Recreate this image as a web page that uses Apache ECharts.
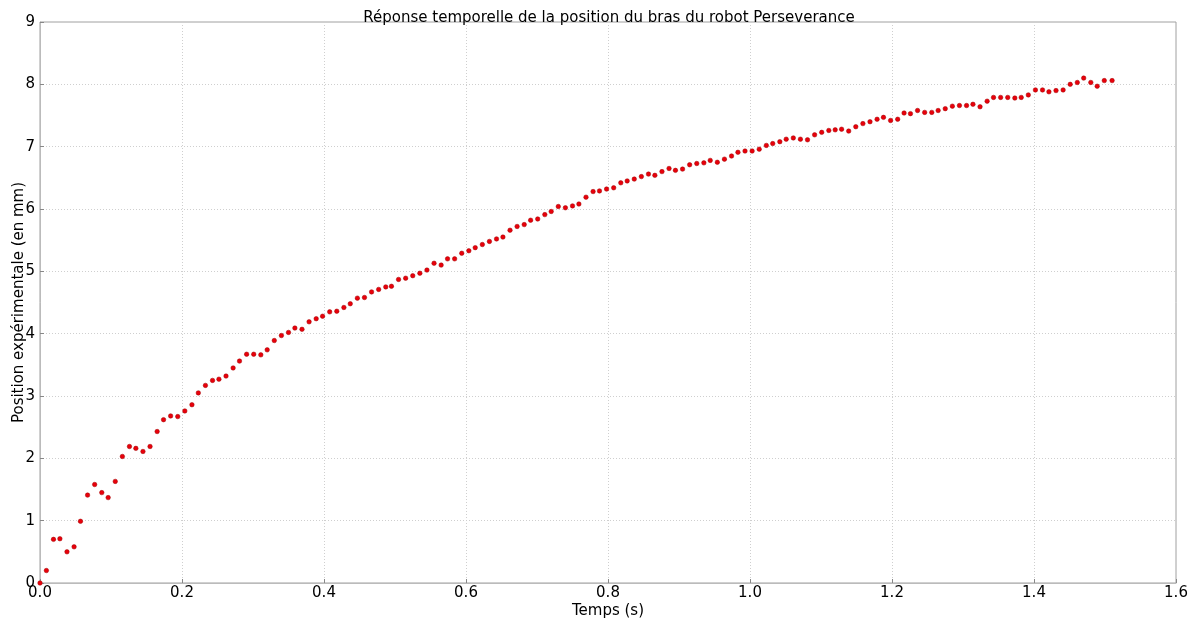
<!DOCTYPE html>
<html>
<head>
<meta charset="utf-8">
<script src="https://cdn.jsdelivr.net/npm/echarts@6/dist/echarts.min.js"></script>
<style>
  html, body { margin: 0; padding: 0; background: #fff; }
  #chart_box { width: 1190px; height: 619px; }
</style>
</head>
<body>
<div id="chart_box"></div>
<script>
/*temps (s)*/
var timeArr = [
	0.000, 0.009, 0.019, 0.028, 0.038, 0.048, 0.057, 0.067, 0.077, 0.087,
	0.096, 0.106, 0.116, 0.126, 0.135, 0.145, 0.155, 0.165, 0.174, 0.184,
	0.194, 0.204, 0.214, 0.223, 0.233, 0.243, 0.252, 0.262, 0.272, 0.281,
	0.291, 0.301, 0.311, 0.320, 0.330, 0.340, 0.350, 0.359, 0.369, 0.379,
	0.389, 0.398, 0.408, 0.418, 0.428, 0.437, 0.447, 0.457, 0.467, 0.477,
	0.487, 0.495, 0.505, 0.515, 0.525, 0.535, 0.545, 0.555, 0.565, 0.574,
	0.584, 0.594, 0.604, 0.613, 0.623, 0.633, 0.643, 0.652, 0.662, 0.672,
	0.682, 0.691, 0.701, 0.711, 0.720, 0.730, 0.740, 0.750, 0.759, 0.769,
	0.779, 0.788, 0.798, 0.808, 0.818, 0.827, 0.837, 0.847, 0.857, 0.866,
	0.876, 0.886, 0.895, 0.905, 0.915, 0.925, 0.935, 0.944, 0.954, 0.964,
	0.974, 0.983, 0.993, 1.003, 1.013, 1.023, 1.032, 1.042, 1.051, 1.061,
	1.071, 1.081, 1.091, 1.101, 1.111, 1.120, 1.129, 1.139, 1.149, 1.159,
	1.169, 1.179, 1.188, 1.198, 1.208, 1.217, 1.226, 1.236, 1.246, 1.256,
	1.265, 1.275, 1.285, 1.295, 1.305, 1.314, 1.324, 1.334, 1.343, 1.353,
	1.363, 1.373, 1.382, 1.392, 1.402, 1.412, 1.421, 1.431, 1.441, 1.451,
	1.461, 1.470, 1.480, 1.489, 1.499, 1.510
];
/*position (mm)*/
var posArr = [
	0.00, 0.20, 0.70, 0.71, 0.50, 0.58, 0.99, 1.41, 1.58, 1.45,
	1.37, 1.63, 2.03, 2.19, 2.16, 2.11, 2.19, 2.43, 2.62, 2.68,
	2.67, 2.76, 2.86, 3.05, 3.17, 3.25, 3.27, 3.32, 3.45, 3.56,
	3.67, 3.67, 3.66, 3.74, 3.89, 3.97, 4.02, 4.09, 4.07, 4.19,
	4.24, 4.28, 4.35, 4.36, 4.42, 4.48, 4.57, 4.58, 4.67, 4.71,
	4.75, 4.76, 4.87, 4.89, 4.93, 4.97, 5.02, 5.13, 5.10, 5.20,
	5.20, 5.29, 5.33, 5.38, 5.43, 5.48, 5.52, 5.55, 5.66, 5.72,
	5.75, 5.82, 5.84, 5.91, 5.96, 6.04, 6.02, 6.05, 6.08, 6.19,
	6.28, 6.29, 6.32, 6.34, 6.42, 6.45, 6.48, 6.52, 6.56, 6.54,
	6.60, 6.65, 6.62, 6.64, 6.71, 6.73, 6.74, 6.78, 6.75, 6.80,
	6.85, 6.91, 6.93, 6.93, 6.96, 7.02, 7.05, 7.08, 7.12, 7.14,
	7.12, 7.11, 7.19, 7.23, 7.26, 7.27, 7.28, 7.25, 7.32, 7.37,
	7.40, 7.44, 7.47, 7.42, 7.44, 7.54, 7.53, 7.58, 7.55, 7.55,
	7.58, 7.61, 7.65, 7.66, 7.66, 7.68, 7.64, 7.73, 7.79, 7.79,
	7.79, 7.78, 7.79, 7.83, 7.91, 7.91, 7.88, 7.90, 7.91, 8.00,
	8.03, 8.10, 8.03, 7.97, 8.06, 8.06
];
/*graduations*/
var xTicks = [0, 0.2, 0.4, 0.6, 0.8, 1.0, 1.2, 1.4, 1.6];
var yTicks = [0, 1, 2, 3, 4, 5, 6, 7, 8, 9];

var titleText = 'Réponse temporelle de la position du bras du robot Perseverance';
var xName = 'Temps (s)';
var yName = 'Position expérimentale (en mm)';

var pointArr = [];
for(var i = 0; i < timeArr.length; i++) {
	pointArr.push([timeArr[i], posArr[i]]);
}

var myChart = echarts.init(document.getElementById('chart_box'));
var fontName = '"DejaVu Sans", sans-serif';
var option = {
	animation: false,
	backgroundColor: '#fff',
	textStyle: { fontFamily: fontName },
	title: {
		text: titleText,
		left: 604,
		textAlign: 'center',
		top: 6,
		textStyle: { fontSize: 15, fontWeight: 'normal', color: '#000', fontFamily: fontName }
	},
	grid: {
		left: 40,
		right: 14,
		top: 22,
		bottom: 36,
		outerBoundsMode: 'none',
		containLabel: false,
		show: true,
		borderColor: '#a0a0a0',
		borderWidth: 1,
		backgroundColor: '#fff'
	},
	xAxis: {
		type: 'value',
		min: xTicks[0],
		max: xTicks[xTicks.length - 1],
		interval: 0.2,
		name: xName,
		nameLocation: 'middle',
		nameGap: 21,
		nameMoveOverlap: false,
		nameTextStyle: { fontSize: 15, color: '#000', fontFamily: fontName },
		axisLine: { show: true, lineStyle: { color: '#bbbbbb' } },
		axisTick: { show: true, inside: true, length: 4, lineStyle: { color: '#888' } },
		axisLabel: {
			fontSize: 15, color: '#000', margin: 3, fontFamily: fontName,
			formatter: function(v) { return v.toFixed(1); }
		},
		splitLine: { show: true, lineStyle: { color: '#cfcfcf', type: [1, 2], width: 1 } }
	},
	yAxis: {
		type: 'value',
		min: yTicks[0],
		max: yTicks[yTicks.length - 1],
		interval: 1,
		name: yName,
		nameLocation: 'middle',
		nameGap: 13,
		nameMoveOverlap: false,
		nameTextStyle: { fontSize: 15, color: '#000', fontFamily: fontName },
		axisLine: { show: true, lineStyle: { color: '#bbbbbb' } },
		axisTick: { show: true, inside: true, length: 4, lineStyle: { color: '#888' } },
		axisLabel: { fontSize: 15, color: '#000', margin: 5, fontFamily: fontName },
		splitLine: { show: true, lineStyle: { color: '#cfcfcf', type: [1, 2], width: 1 } }
	},
	series: [{
		name: 'position',
		type: 'scatter',
		data: pointArr,
		symbol: 'circle',
		symbolSize: 4.5,
		itemStyle: { color: '#e8000b', borderColor: '#a00000', borderWidth: 0.5, opacity: 1 },
		clip: false
	}]
};
myChart.setOption(option);
</script>
</body>
</html>
